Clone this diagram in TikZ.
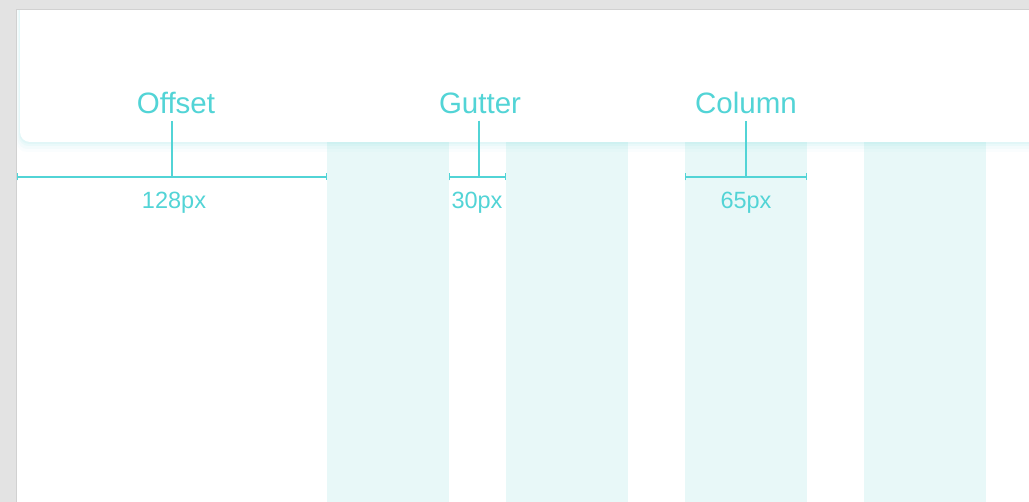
\documentclass[tikz,border=0pt]{standalone}
\usepackage{fontspec}
\setmainfont{Liberation Sans}
\usetikzlibrary{arrows.meta,calc}

\definecolor{gridcyan}{RGB}{82,212,214}
\definecolor{colfill}{RGB}{232,248,248}
\definecolor{pagegray}{RGB}{227,227,227}

\tikzset{
  dimline/.style = {draw=gridcyan, line width=2pt, {Bar[width=7pt,line width=1.4pt]}-{Bar[width=7pt,line width=1.4pt]}},
  stem/.style = {draw=gridcyan, line width=2pt},
  biglabel/.style = {text=gridcyan, font=\fontsize{29.5}{34}\selectfont, inner sep=0pt},
  smalllabel/.style = {text=gridcyan, font=\fontsize{23.5}{27}\selectfont, inner sep=0pt, anchor=base}
}

\begin{document}
\begin{tikzpicture}[x=1pt, y=-1pt]
                \useasboundingbox (0,0) rectangle (1029,502);
                \path[fill=pagegray] (0,0) rectangle (1029,502);
                \path[fill=white] (16,10) rectangle (1029,502);
                \begin{scope}
                    \clip (16,10) rectangle (1029,502);
                    % columns
                    \foreach \x in {327,506,685,864}
                        \path[fill=colfill] (\x,142) rectangle ++(122,360);
                    % header card with soft shadow
                    \foreach \d/\o in {10/0.025, 7/0.04, 4/0.05, 2/0.06}
                        \path[fill=gridcyan, opacity=\o, rounded corners=10pt] (20-\d/3,-10) rectangle (1045,142+\d);
                    \path[fill=white, rounded corners=10pt] (20,-10) rectangle (1045,142);
                \end{scope}
                \path[draw=black!18, line width=1pt] (16,502) -- (16,10) -- (1029,10);

                % offset
                \node[biglabel] (offset) at (176,103) {Offset};
                \coordinate (offL) at (17,177);
                \coordinate (offR) at (327,177);
                \coordinate (offM) at ($(offL)!0.5!(offR)$);
                \path[dimline] (offL) -- (offR);
                \path[stem] ([yshift=-7pt]offM |- offset.south) -- (offM);
                \node[smalllabel] (offval) at (174,209) {128px};

                % gutter
                \node[biglabel] (gutter) at (480,103) {Gutter};
                \coordinate (gutL) at (449,177);
                \coordinate (gutR) at (506,177);
                \coordinate (gutM) at (479,177);
                \path[dimline] (gutL) -- (gutR);
                \path[stem] ([yshift=-7pt]gutM |- gutter.south) -- (gutM);
                \node[smalllabel] (gutval) at (477,209) {30px};

                % column
                \node[biglabel] (column) at (746,103) {Column};
                \coordinate (colL) at (685,177);
                \coordinate (colR) at (807,177);
                \coordinate (colM) at ($(colL)!0.5!(colR)$);
                \path[dimline] (colL) -- (colR);
                \path[stem] ([yshift=-7pt]colM |- column.south) -- (colM);
                \node[smalllabel] (colval) at (746,209) {65px};
            \end{tikzpicture}
\end{document}
